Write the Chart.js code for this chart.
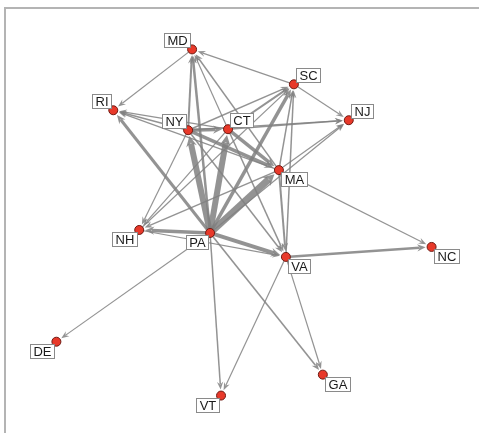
<!DOCTYPE html>
<html>
<head>
<meta charset="utf-8">
<script src="https://cdn.jsdelivr.net/npm/chart.js@4"></script>
<style>
html,body{margin:0;padding:0;background:#fff;overflow:hidden;}
#wrap{position:relative;width:479px;height:433px;}
#frame{position:absolute;left:4px;top:7px;width:500px;height:460px;border-top:2px solid #b4b4b4;border-left:2px solid #b4b4b4;}
canvas{position:absolute;left:0;top:0;}
</style>
</head>
<body>
<div id="wrap"><div id="frame"></div><canvas id="c" width="479" height="433"></canvas></div>
<script>
// Nodes
const nodeNames = ['MD','SC','NJ','RI','NY','CT','MA','NH','PA','VA','NC','DE','VT','GA'];
const nodeX = [192,294,349,113,188,228,279,139,210,286,432,56,221,323];
const nodeY = [49,84,120,110,130,129,170,230,233,257,247,342,396,375];
// Label side: horizontal (-1 left, 1 right), vertical (-1 above, 1 below)
const labelSideX = [-1,1,1,-1,-1,1,1,-1,-1,1,1,-1,-1,1];
const labelSideY = [-1,-1,-1,-1,-1,-1,1,1,1,1,1,1,1,1];

// Edges (directed: from -> to) with weights
const edgeFrom = ['MD','SC','PA','NY','CT','MA',
  'NY','CT','MA','PA',
  'SC','NY','CT','PA','MA','VA','NH',
  'CT','MA','NY','PA',
  'MA','VA',
  'PA','PA','VA','PA','VA',
  'PA','NY','CT','MA',
  'NY','NY','PA','CT','PA','PA','NY','CT','MA','PA','NH'];
const edgeTo = ['RI','MD','MD','MD','MD','MD',
  'RI','RI','RI','RI',
  'NJ','SC','SC','SC','SC','SC','SC',
  'NJ','NJ','NJ','NJ',
  'NC','NC',
  'DE','VT','VT','GA','GA',
  'NH','NH','NH','NH',
  'CT','MA','NY','MA','CT','MA','VA','VA','VA','VA','VA'];
const edgeWeight = [1.2,1.2,2.5,2,1.2,1.5,
  1.5,1.2,1.2,3,
  1.2,1.5,2,3.5,1.5,1.5,1.2,
  1.5,1.2,1.2,1.2,
  1.2,2.5,
  1.2,1.5,1.2,1.6,1.2,
  3.5,1.2,1.2,1.5,
  3.5,3.5,6,3.5,6,7,1.5,1.5,2,4,1.2];

const edgeColor = 'rgba(128,128,128,0.85)';
const nodeR = 4.5;

const nodeData = nodeNames.map((n,i)=>({x:nodeX[i], y:nodeY[i], name:n}));

const edgePlugin = {
  id:'edges',
  beforeDatasetsDraw(chart){
    const ctx = chart.ctx, xs = chart.scales.x, ys = chart.scales.y;
    ctx.save();
    for(let k=0;k<edgeFrom.length;k++){
      const a = nodeNames.indexOf(edgeFrom[k]), b = nodeNames.indexOf(edgeTo[k]);
      const x1 = xs.getPixelForValue(nodeX[a]), y1 = ys.getPixelForValue(nodeY[a]);
      const x2 = xs.getPixelForValue(nodeX[b]), y2 = ys.getPixelForValue(nodeY[b]);
      const dx = x2-x1, dy = y2-y1, L = Math.hypot(dx,dy), ux = dx/L, uy = dy/L;
      const w = edgeWeight[k];
      const tipX = x2 - ux*(nodeR+1.5), tipY = y2 - uy*(nodeR+1.5);
      const ah = 7 + w*0.6, aw = 2.4 + w*0.5;
      const baseX = tipX - ux*ah, baseY = tipY - uy*ah;
      ctx.strokeStyle = edgeColor; ctx.lineWidth = w; ctx.lineCap='butt';
      ctx.beginPath(); ctx.moveTo(x1,y1); ctx.lineTo(baseX+ux*ah*0.3, baseY+uy*ah*0.3); ctx.stroke();
      ctx.fillStyle = edgeColor;
      ctx.beginPath();
      ctx.moveTo(tipX,tipY);
      ctx.lineTo(baseX - uy*aw, baseY + ux*aw);
      ctx.lineTo(baseX + ux*ah*0.35, baseY + uy*ah*0.35);
      ctx.lineTo(baseX + uy*aw, baseY - ux*aw);
      ctx.closePath(); ctx.fill();
    }
    ctx.restore();
  }
};

const labelPlugin = {
  id:'labels',
  afterDatasetsDraw(chart){
    const ctx = chart.ctx, xs = chart.scales.x, ys = chart.scales.y;
    ctx.save();
    ctx.font = '13px "Liberation Sans", Arial, sans-serif';
    ctx.textBaseline = 'middle'; ctx.textAlign = 'center';
    for(let i=0;i<nodeNames.length;i++){
      const px = xs.getPixelForValue(nodeX[i]), py = ys.getPixelForValue(nodeY[i]);
      const tw = ctx.measureText(nodeNames[i]).width;
      const bw = Math.round(tw + 6), bh = 14;
      const bx = labelSideX[i] < 0 ? px - 2 - bw : px + 2;
      const by = labelSideY[i] < 0 ? py - 2 - bh : py + 2;
      ctx.fillStyle = '#fff';
      ctx.fillRect(Math.round(bx)+0.5, Math.round(by)+0.5, bw, bh);
      ctx.strokeStyle = '#8a8a8a'; ctx.lineWidth = 1;
      ctx.strokeRect(Math.round(bx)+0.5, Math.round(by)+0.5, bw, bh);
      ctx.fillStyle = '#1a1a1a';
      ctx.fillText(nodeNames[i], Math.round(bx)+0.5+bw/2, Math.round(by)+0.5+bh/2+0.5);
    }
    ctx.restore();
  }
};

new Chart(document.getElementById('c'), {
  type:'scatter',
  data:{datasets:[{
    data:nodeData,
    pointRadius:nodeR,
    pointHoverRadius:nodeR,
    backgroundColor:'#e8392a',
    borderColor:'#6e1a12',
    borderWidth:1
  }]},
  options:{
    responsive:false,
    animation:false,
    events:[],
    layout:{padding:0},
    plugins:{legend:{display:false},tooltip:{enabled:false}},
    scales:{
      x:{type:'linear',min:5,max:474,display:false},
      y:{type:'linear',min:5,max:428,reverse:true,display:false}
    }
  },
  plugins:[edgePlugin,labelPlugin]
});
</script>
</body>
</html>
